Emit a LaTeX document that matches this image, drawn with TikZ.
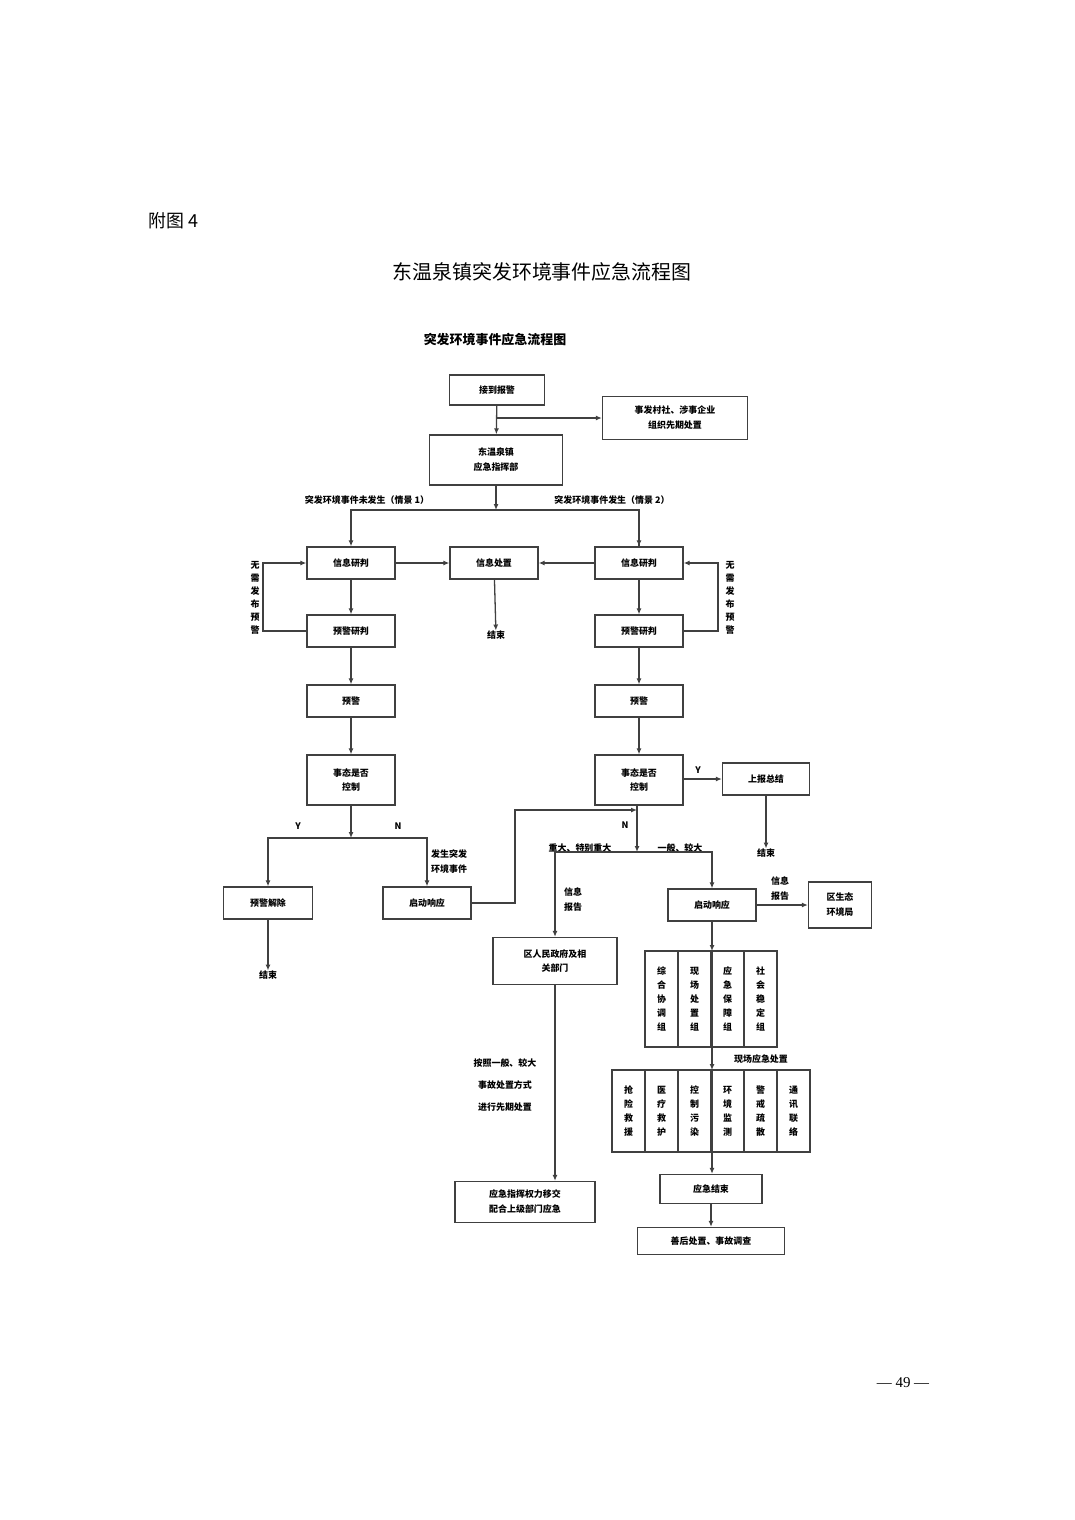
\documentclass[tikz,border=0pt]{standalone}
\usepackage{fontspec}
\setmainfont{Liberation Serif}
\newfontfamily\cjk{Noto Sans CJK SC}
\newfontfamily\cjkb{Noto Sans CJK SC}[BoldFont={Noto Sans CJK SC Bold}]
\usetikzlibrary{arrows.meta}
\begin{document}
\begin{tikzpicture}[x=1bp,y=-1bp,
  box/.style={draw=black!75,line width=1.3bp,minimum height=32bp,align=center,inner sep=1bp,font=\cjk\bfseries\fontsize{9}{15}\selectfont},
  cell/.style={draw=black!75,line width=1.1bp,align=center,inner sep=0,font=\cjk\bfseries\fontsize{9}{14}\selectfont},
  lab/.style={align=center,inner sep=0,font=\cjk\bfseries\fontsize{9}{15}\selectfont},
  ln/.style={draw=black!75,line width=1.3bp},
  ar/.style={ln,-{Latex[length=6bp,width=5bp]}}]
\useasboundingbox (0,0) rectangle (1074,1520);
\node[font=\cjk\fontsize{18}{20}\selectfont,anchor=west] (fig) at (145,221) {附图 4};
\node[font=\cjk\fontsize{20}{24}\selectfont] (title) at (542,272) {东温泉镇突发环境事件应急流程图};
\node[font=\cjk\bfseries\fontsize{13}{15}\selectfont] (sub) at (495,340) {突发环境事件应急流程图};
% top
\node[box,minimum width=95bp,minimum height=30bp] (jd) at (497,390) {接到报警};
\node[box,minimum width=145bp,minimum height=43bp] (cs) at (675,418) {事发村社、涉事企业\\组织先期处置};
\node[box,minimum width=133bp,minimum height=50bp] (zh) at (496,460) {东温泉镇\\应急指挥部};
\coordinate (b1) at (497,418);
\draw[ar] (jd) -- (zh);
\draw[ar] (b1) -- (cs.west|-b1);
\node[lab] (s1) at (367,500) {突发环境事件未发生（情景 1）};
\node[lab] (s2) at (612,500) {突发环境事件发生（情景 2）};
\coordinate (sp) at (496,510);
\draw[ar] (zh) -- (sp);
\node[box,minimum width=88bp] (xl) at (351,563) {信息研判};
\node[box,minimum width=88bp] (xc) at (494,563) {信息处置};
\node[box,minimum width=88bp] (xr) at (639,563) {信息研判};
\draw[ar] (sp) -| (xl);
\draw[ln] (sp) -| (xr);
\draw[ar] (sp-|xr) -- (xr);
\draw[ar] (xl) -- (xc);
\draw[ar] (xr) -- (xc);
\node[lab] (e1) at (496,635) {结束};
\draw[ar] (xc) -- (e1);
\node[box,minimum width=88bp] (yl) at (351,631) {预警研判};
\node[box,minimum width=88bp] (yr) at (639,631) {预警研判};
\draw[ar] (xl) -- (yl);
\draw[ar] (xr) -- (yr);
\coordinate (ll) at (263,631);
\coordinate (rl) at (718,631);
\draw[ar] (yl.west) -- (ll) |- (xl.west);
\draw[ar] (yr.east) -- (rl) |- (xr.east);
\node[lab,font=\cjk\bfseries\fontsize{9}{13}\selectfont] (wl) at (255,598) {无\\需\\发\\布\\预\\警};
\node[lab,font=\cjk\bfseries\fontsize{9}{13}\selectfont] (wr) at (730,598) {无\\需\\发\\布\\预\\警};
\node[box,minimum width=88bp] (pl) at (351,701) {预警};
\node[box,minimum width=88bp] (pr) at (639,701) {预警};
\draw[ar] (yl) -- (pl);
\draw[ar] (yr) -- (pr);
\node[box,minimum width=88bp,minimum height=50bp] (tl) at (351,780) {事态是否\\控制};
\node[box,minimum width=88bp,minimum height=50bp] (tr) at (639,780) {事态是否\\控制};
\draw[ar] (pl) -- (tl);
\draw[ar] (pr) -- (tr);
% left branch
\coordinate (lb) at (351,838);
\draw[ar] (tl) -- (lb);
\node[box,minimum width=89bp] (jc) at (268,903) {预警解除};
\node[box,minimum width=88bp] (ql) at (427,903) {启动响应};
\draw[ar] (lb) -| (jc);
\draw[ar] (lb) -| (ql);
\node[lab] (Y1) at (298,826) {Y};
\node[lab] (N1) at (398,826) {N};
\node[lab,anchor=west] (fs) at (431,862) {发生突发\\环境事件};
\node[lab] (e2) at (268,975) {结束};
\draw[ar] (jc) -- (e2);
\coordinate (c1) at (515,903);
\coordinate (c2) at (515,810);
\coordinate (c3) at (637,810);
\draw[ar] (ql.east) -- (c1) -- (c2) -- (c3);
% right
\node[box,minimum width=87bp] (sb) at (766,779) {上报总结};
\draw[ar] (tr.east|-sb) -- (sb);
\node[lab] (Y2) at (698,770) {Y};
\node[lab] (e3) at (766,853) {结束};
\draw[ar] (sb) -- (e3);
\node[lab] (N2) at (625,825) {N};
\coordinate (rb) at (637,852);
\draw[ar] (tr.south-|rb) -- (rb);
\node[lab] (zd) at (580,848) {重大、特别重大};
\node[lab] (yb) at (680,848) {一般、较大};
\node[box,minimum width=124bp,minimum height=47bp] (qz) at (555,961) {区人民政府及相\\关部门};
\node[box,minimum width=88bp] (qr) at (712,905) {启动响应};
\draw[ar] (rb) -| (qz);
\draw[ar] (rb) -| (qr);
\node[lab] (xb1) at (573,900) {信息\\报告};
\node[box,minimum width=63bp,minimum height=46bp] (st) at (840,905) {区生态\\环境局};
\draw[ar] (qr) -- (st);
\node[lab] (xb2) at (780,889) {信息\\报告};
% groups
\foreach \t [count=\i] in {综\\合\\协\\调\\组,现\\场\\处\\置\\组,应\\急\\保\\障\\组,社\\会\\稳\\定\\组}
  \node[cell,minimum width=33bp,minimum height=96bp] (g\i) at (645+33*\i-16.5,999) {\t};
\foreach \t [count=\i] in {抢\\险\\救\\援,医\\疗\\救\\护,控\\制\\污\\染,环\\境\\监\\测,警\\戒\\疏\\散,通\\讯\\联\\络}
  \node[cell,minimum width=33bp,minimum height=82bp] (h\i) at (612+33*\i-16.5,1111) {\t};
\coordinate (g1t) at (712,951);
\coordinate (h1t) at (712,1070);
\draw[ar] (qr) -- (g1t);
\draw[ar] (g1t) -- (h1t);
\node[lab] (xc2) at (761,1059) {现场应急处置};
\node[box,minimum width=102bp,minimum height=29bp] (yj) at (711,1189) {应急结束};
\node[box,minimum width=147bp,minimum height=27bp] (sh) at (711,1241) {善后处置、事故调查};
\draw[ar] (h1t) -- (yj.north-|h1t);
\draw[ar] (yj) -- (sh);
% left bottom
\node[box,minimum width=140bp,minimum height=41bp] (yq) at (525,1202) {应急指挥权力移交\\配合上级部门应急};
\draw[ar] (qz.south) -- (yq.north-|qz.south);
\node[lab,font=\cjk\bfseries\fontsize{9}{22}\selectfont] (aj) at (505,1085) {按照一般、较大\\事故处置方式\\进行先期处置};
\node[font=\fontsize{15}{17}\selectfont] (pg) at (903,1383) {— 49 —};
\end{tikzpicture}
\end{document}
